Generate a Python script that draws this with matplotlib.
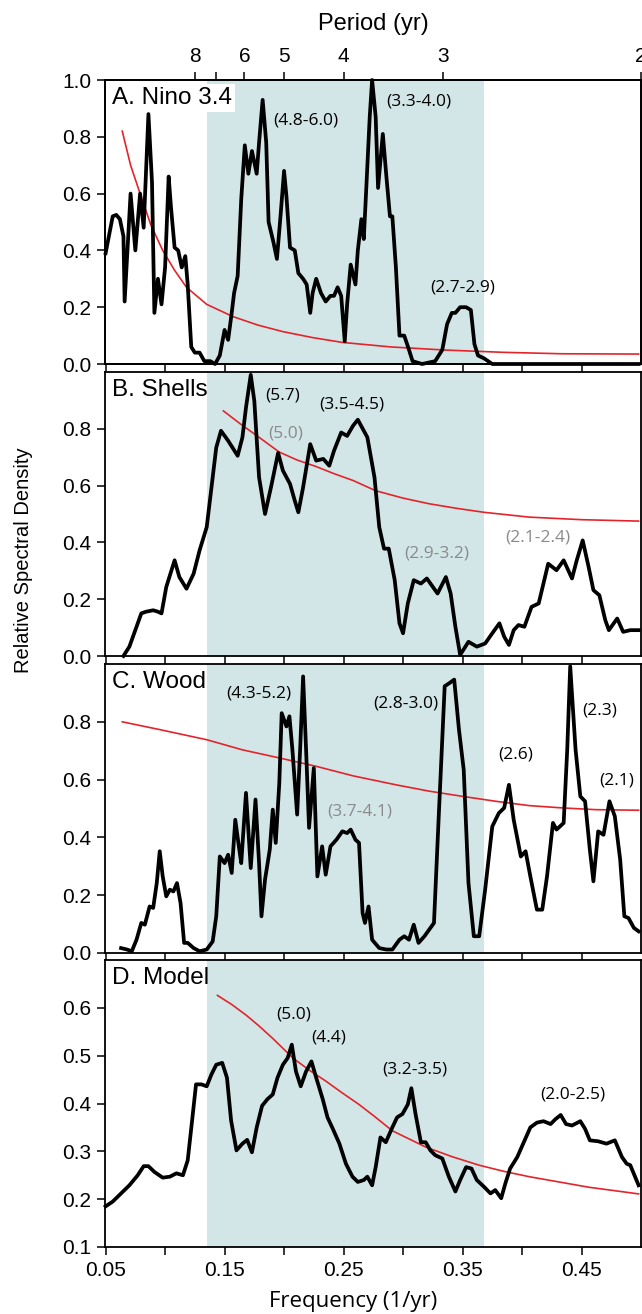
import matplotlib
matplotlib.use('Agg')
import matplotlib.pyplot as plt

plt.rcParams['font.family'] = ['Liberation Sans', 'DejaVu Sans']

# 频率 (1/yr), 相对谱密度 —— 从原图读出
nino_pts = [(0.050, 0.39), (0.056, 0.52), (0.059, 0.525), (0.062, 0.51), (0.065, 0.45), (0.066, 0.22),
            (0.071, 0.60), (0.075, 0.40), (0.079, 0.60), (0.082, 0.48), (0.086, 0.88), (0.089, 0.64),
            (0.091, 0.18), (0.094, 0.30), (0.097, 0.21), (0.100, 0.34), (0.103, 0.66), (0.105, 0.55),
            (0.108, 0.41), (0.111, 0.40), (0.114, 0.34), (0.117, 0.38), (0.119, 0.28), (0.122, 0.06),
            (0.125, 0.04), (0.129, 0.04), (0.133, 0.01), (0.138, 0.01), (0.142, 0.0), (0.146, 0.03),
            (0.150, 0.12), (0.153, 0.085), (0.156, 0.18), (0.158, 0.25), (0.161, 0.31), (0.164, 0.58),
            (0.167, 0.77), (0.170, 0.67), (0.173, 0.75), (0.177, 0.67), (0.179, 0.78), (0.182, 0.93),
            (0.185, 0.78), (0.187, 0.50), (0.191, 0.43), (0.194, 0.37), (0.197, 0.52), (0.200, 0.68),
            (0.202, 0.59), (0.205, 0.41), (0.209, 0.40), (0.212, 0.32), (0.216, 0.30), (0.219, 0.28),
            (0.222, 0.18), (0.224, 0.25), (0.227, 0.30), (0.231, 0.25), (0.235, 0.22), (0.239, 0.24),
            (0.242, 0.24), (0.245, 0.27), (0.248, 0.24), (0.251, 0.08), (0.253, 0.21), (0.256, 0.35),
            (0.260, 0.28), (0.262, 0.40), (0.265, 0.51), (0.267, 0.44), (0.269, 0.61), (0.272, 0.87),
            (0.274, 1.0), (0.277, 0.87), (0.279, 0.62), (0.283, 0.81), (0.286, 0.66), (0.289, 0.52),
            (0.291, 0.52), (0.294, 0.34), (0.297, 0.10), (0.301, 0.10), (0.305, 0.05), (0.308, 0.01),
            (0.316, 0.0), (0.327, 0.01), (0.333, 0.05), (0.337, 0.14), (0.341, 0.18), (0.344, 0.18),
            (0.348, 0.20), (0.353, 0.20), (0.357, 0.19), (0.360, 0.07), (0.363, 0.03), (0.368, 0.02),
            (0.375, 0.0), (0.498, 0.0)]

shells_pts = [(0.065, 0.0), (0.070, 0.033), (0.076, 0.103), (0.080, 0.15), (0.084, 0.156), (0.090, 0.161),
              (0.094, 0.156), (0.097, 0.15), (0.101, 0.243), (0.108, 0.337), (0.112, 0.278), (0.118, 0.237),
              (0.124, 0.29), (0.129, 0.372), (0.135, 0.454), (0.139, 0.594), (0.143, 0.734), (0.147, 0.793),
              (0.153, 0.758), (0.161, 0.705), (0.165, 0.77), (0.168, 0.875), (0.172, 0.99), (0.175, 0.898),
              (0.179, 0.629), (0.184, 0.50), (0.189, 0.594), (0.195, 0.715), (0.199, 0.653), (0.205, 0.606),
              (0.209, 0.547), (0.212, 0.506), (0.216, 0.594), (0.222, 0.746), (0.227, 0.688), (0.233, 0.694),
              (0.238, 0.67), (0.242, 0.723), (0.248, 0.787), (0.253, 0.775), (0.258, 0.811), (0.262, 0.832),
              (0.270, 0.77), (0.276, 0.629), (0.280, 0.454), (0.284, 0.378), (0.288, 0.378), (0.293, 0.267),
              (0.297, 0.115), (0.300, 0.08), (0.304, 0.185), (0.309, 0.267), (0.315, 0.255), (0.320, 0.273),
              (0.329, 0.22), (0.336, 0.278), (0.340, 0.22), (0.344, 0.103), (0.348, 0.004), (0.355, 0.05),
              (0.362, 0.033), (0.369, 0.044), (0.375, 0.08), (0.381, 0.115), (0.385, 0.068), (0.389, 0.039),
              (0.393, 0.091), (0.397, 0.109), (0.402, 0.103), (0.408, 0.173), (0.414, 0.185), (0.418, 0.255),
              (0.422, 0.325), (0.429, 0.302), (0.435, 0.337), (0.442, 0.273), (0.446, 0.337), (0.451, 0.407),
              (0.456, 0.313), (0.460, 0.232), (0.465, 0.214), (0.470, 0.126), (0.473, 0.091), (0.480, 0.132),
              (0.485, 0.085), (0.491, 0.091), (0.498, 0.091)]

wood_pts = [(0.063, 0.017), (0.068, 0.012), (0.072, 0.006), (0.076, 0.046), (0.080, 0.104), (0.083, 0.098),
            (0.087, 0.161), (0.090, 0.156), (0.093, 0.242), (0.0955, 0.352), (0.098, 0.265), (0.101, 0.196),
            (0.104, 0.219), (0.107, 0.213), (0.110, 0.242), (0.113, 0.173), (0.116, 0.035), (0.119, 0.035),
            (0.124, 0.017), (0.129, 0.006), (0.135, 0.012), (0.140, 0.04), (0.143, 0.127), (0.146, 0.334),
            (0.150, 0.311), (0.153, 0.34), (0.156, 0.277), (0.159, 0.461), (0.162, 0.369), (0.164, 0.311),
            (0.168, 0.554), (0.172, 0.294), (0.176, 0.531), (0.179, 0.311), (0.181, 0.127), (0.184, 0.254),
            (0.188, 0.358), (0.1905, 0.496), (0.193, 0.381), (0.196, 0.588), (0.198, 0.83), (0.202, 0.784),
            (0.2045, 0.819), (0.207, 0.704), (0.211, 0.479), (0.2135, 0.704), (0.216, 0.957), (0.2185, 0.704),
            (0.221, 0.433), (0.225, 0.64), (0.228, 0.265), (0.232, 0.369), (0.235, 0.271), (0.239, 0.369),
            (0.244, 0.392), (0.249, 0.421), (0.253, 0.415), (0.256, 0.427), (0.260, 0.392), (0.263, 0.381),
            (0.266, 0.138), (0.268, 0.104), (0.271, 0.161), (0.274, 0.046), (0.280, 0.017), (0.286, 0.012),
            (0.291, 0.012), (0.297, 0.046), (0.301, 0.058), (0.305, 0.046), (0.309, 0.098), (0.313, 0.035),
            (0.318, 0.058), (0.322, 0.081), (0.326, 0.104), (0.330, 0.473), (0.335, 0.923), (0.339, 0.934),
            (0.343, 0.946), (0.347, 0.773), (0.351, 0.634), (0.355, 0.242), (0.3595, 0.058), (0.364, 0.058),
            (0.369, 0.219), (0.375, 0.438), (0.3805, 0.484), (0.385, 0.502), (0.389, 0.582), (0.393, 0.461),
            (0.399, 0.334), (0.403, 0.352), (0.407, 0.265), (0.4125, 0.15), (0.417, 0.15), (0.421, 0.265),
            (0.426, 0.45), (0.429, 0.427), (0.435, 0.45), (0.438, 0.704), (0.4405, 0.992), (0.445, 0.704),
            (0.449, 0.542), (0.453, 0.525), (0.457, 0.358), (0.460, 0.248), (0.464, 0.421), (0.4685, 0.409),
            (0.4735, 0.525), (0.478, 0.473), (0.4825, 0.323), (0.486, 0.127), (0.4895, 0.121), (0.494, 0.087),
            (0.498, 0.075)]

model_pts = [(0.050, 0.185), (0.056, 0.195), (0.063, 0.212), (0.070, 0.229), (0.077, 0.25), (0.082, 0.269),
             (0.086, 0.269), (0.091, 0.257), (0.098, 0.245), (0.104, 0.247), (0.1095, 0.254), (0.115, 0.25),
             (0.119, 0.281), (0.123, 0.371), (0.126, 0.44), (0.1305, 0.44), (0.135, 0.436), (0.139, 0.461),
             (0.143, 0.481), (0.148, 0.485), (0.152, 0.454), (0.1555, 0.364), (0.160, 0.302), (0.165, 0.316),
             (0.169, 0.324), (0.173, 0.298), (0.177, 0.35), (0.1815, 0.395), (0.186, 0.409), (0.1905, 0.419),
             (0.1945, 0.454), (0.199, 0.481), (0.203, 0.495), (0.2065, 0.523), (0.210, 0.467), (0.214, 0.436),
             (0.2185, 0.467), (0.223, 0.488), (0.227, 0.454), (0.2325, 0.409), (0.2365, 0.371), (0.241, 0.347),
             (0.2465, 0.316), (0.252, 0.274), (0.2575, 0.247), (0.262, 0.236), (0.267, 0.24), (0.270, 0.247),
             (0.274, 0.229), (0.277, 0.267), (0.281, 0.329), (0.2855, 0.319), (0.291, 0.35), (0.295, 0.371),
             (0.2995, 0.378), (0.304, 0.398), (0.307, 0.432), (0.3105, 0.378), (0.315, 0.319), (0.319, 0.319),
             (0.323, 0.302), (0.327, 0.292), (0.333, 0.285), (0.3385, 0.247), (0.344, 0.216), (0.348, 0.24),
             (0.353, 0.267), (0.3575, 0.264), (0.362, 0.24), (0.368, 0.226), (0.3735, 0.212), (0.3775, 0.219),
             (0.3825, 0.202), (0.386, 0.233), (0.390, 0.264), (0.396, 0.288), (0.4015, 0.319), (0.407, 0.35),
             (0.4125, 0.36), (0.418, 0.363), (0.424, 0.357), (0.428, 0.367), (0.4325, 0.376), (0.437, 0.357),
             (0.442, 0.354), (0.449, 0.363), (0.453, 0.347), (0.457, 0.323), (0.464, 0.321), (0.471, 0.316),
             (0.478, 0.323), (0.484, 0.288), (0.488, 0.274), (0.491, 0.271), (0.495, 0.247), (0.498, 0.229)]

# 红噪声曲线
nino_red = [(0.064, 0.82), (0.071, 0.70), (0.079, 0.60), (0.088, 0.49), (0.098, 0.40), (0.108, 0.33),
            (0.118, 0.27), (0.135, 0.21), (0.157, 0.167), (0.178, 0.137), (0.199, 0.114), (0.224, 0.093),
            (0.249, 0.076), (0.290, 0.060), (0.336, 0.049), (0.385, 0.041), (0.434, 0.036), (0.498, 0.035)]
shells_red = [(0.149, 0.863), (0.164, 0.815), (0.179, 0.77), (0.196, 0.718), (0.211, 0.69), (0.227, 0.667),
              (0.242, 0.642), (0.258, 0.618), (0.277, 0.582), (0.300, 0.556), (0.322, 0.536), (0.345, 0.52),
              (0.368, 0.506), (0.406, 0.489), (0.450, 0.48), (0.498, 0.475)]
wood_red = [(0.064, 0.80), (0.0955, 0.773), (0.135, 0.738), (0.165, 0.703), (0.196, 0.675), (0.227, 0.646),
            (0.258, 0.613), (0.294, 0.582), (0.322, 0.56), (0.350, 0.542), (0.378, 0.525), (0.406, 0.51),
            (0.434, 0.502), (0.462, 0.496), (0.498, 0.494)]
model_red = [(0.144, 0.626), (0.156, 0.607), (0.168, 0.585), (0.179, 0.562), (0.1905, 0.536), (0.2075, 0.495),
             (0.221, 0.47), (0.235, 0.447), (0.249, 0.422), (0.263, 0.398), (0.276, 0.373), (0.291, 0.343),
             (0.319, 0.309), (0.341, 0.289), (0.364, 0.271), (0.385, 0.258), (0.406, 0.247), (0.431, 0.236),
             (0.456, 0.225), (0.498, 0.211)]

panel_names = ['A. Nino 3.4', 'B. Shells', 'C. Wood', 'D. Model']
# 注记: (频率, 数值, 文字, 颜色)
nino_notes = [(0.218, 0.859, '(4.8-6.0)', 'k'), (0.3135, 0.924, '(3.3-4.0)', 'k'), (0.350, 0.27, '(2.7-2.9)', 'k')]
shells_notes = [(0.199, 0.916, '(5.7)', 'k'), (0.201, 0.784, '(5.0)', 'grey'), (0.2567, 0.887, '(3.5-4.5)', 'k'),
                (0.328, 0.362, '(2.9-3.2)', 'grey'), (0.4135, 0.419, '(2.1-2.4)', 'grey')]
wood_notes = [(0.1788, 0.897, '(4.3-5.2)', 'k'), (0.2638, 0.49, '(3.7-4.1)', 'grey'), (0.302, 0.865, '(2.8-3.0)', 'k'),
              (0.395, 0.686, '(2.6)', 'k'), (0.4654, 0.838, '(2.3)', 'k'), (0.4797, 0.597, '(2.1)', 'k')]
model_notes = [(0.2081, 0.586, '(5.0)', 'k'), (0.2374, 0.538, '(4.4)', 'k'), (0.3095, 0.471, '(3.2-3.5)', 'k'),
               (0.4423, 0.419, '(2.0-2.5)', 'k')]

y_limits = [(0.0, 1.0), (0.0, 1.0), (0.0, 1.0), (0.1, 0.7)]
y_ticks = [[0.0, 0.2, 0.4, 0.6, 0.8, 1.0], [0.0, 0.2, 0.4, 0.6, 0.8], [0.0, 0.2, 0.4, 0.6, 0.8],
           [0.1, 0.2, 0.3, 0.4, 0.5, 0.6]]
freq_ticks = [0.05, 0.10, 0.15, 0.20, 0.25, 0.30, 0.35, 0.40, 0.45]
freq_labels = ['0.05', '', '0.15', '', '0.25', '', '0.35', '', '0.45']
period_ticks = [8, 7, 6, 5, 4, 3, 2]
period_labels = ['8', '', '6', '5', '4', '3', '2']
band = (0.135, 0.368)

spectra = [nino_pts, shells_pts, wood_pts, model_pts]
reds = [nino_red, shells_red, wood_red, model_red]
notes = [nino_notes, shells_notes, wood_notes, model_notes]

note_font = ['Open Sans', 'DejaVu Sans']
shade = '#d3e6e7'
red = '#e3242b'

fig = plt.figure(figsize=(6.42, 13.14), dpi=100)
W, H = 642.0, 1314.0
panel_px = [(80, 364), (372, 656), (664, 953), (960, 1247)]

axes = []
for i, (top, bottom) in enumerate(panel_px):
    ax = fig.add_axes([105 / W, 1 - bottom / H, 536 / W, (bottom - top) / H])
    axes.append(ax)

    ax.axvspan(band[0], band[1], color=shade, lw=0, zorder=0)

    rf, rv = zip(*reds[i])
    ax.plot(rf, rv, color=red, lw=1.2, zorder=2)

    f, v = zip(*spectra[i])
    ax.plot(f, v, color='black', lw=2.7, zorder=3, clip_on=False, solid_joinstyle='round')

    ax.set_xlim(0.0495, 0.5)
    ax.set_ylim(*y_limits[i])
    ax.set_yticks(y_ticks[i])
    ax.set_yticklabels(['%.1f' % t for t in y_ticks[i]])
    ax.set_xticks(freq_ticks)
    if i == 3:
        ax.set_xticklabels(freq_labels)
    else:
        ax.set_xticklabels([])

    ax.tick_params(direction='out', length=6, width=1.1, labelsize=15, pad=4)
    for sp in ax.spines.values():
        sp.set_linewidth(1.3)

    for nf, nv, s, c in notes[i]:
        col = '#8a8a8a' if c == 'grey' else 'black'
        ax.text(nf, nv, s, ha='center', va='center', fontsize=12.5, color=col, family=note_font, zorder=4)

    bbox = dict(facecolor='white', edgecolor='none', pad=2) if i == 0 else None
    ax.annotate(panel_names[i], xy=(0, 1), xycoords='axes fraction', xytext=(5, -5),
                textcoords='offset points', ha='left', va='top', fontsize=17.5, bbox=bbox, zorder=5)

# 上方周期坐标轴
ax_top = axes[0].twiny()
ax_top.set_xlim(axes[0].get_xlim())
ax_top.set_xticks([1.0 / p for p in period_ticks])
ax_top.set_xticklabels(period_labels)
ax_top.tick_params(direction='out', length=6, width=1.1, labelsize=15, pad=4)
ax_top.set_xlabel('Period (yr)', fontsize=17, labelpad=12)
for sp in ax_top.spines.values():
    sp.set_linewidth(1.3)

axes[3].set_xlabel('Frequency (1/yr)', fontsize=16, family=note_font)
axes[3].xaxis.set_label_coords(0.463, -0.155)
fig.text(0.036, 0.574, 'Relative Spectral Density', rotation=90, ha='center', va='center', fontsize=14.5)

fig.savefig('out.png', dpi=100)
